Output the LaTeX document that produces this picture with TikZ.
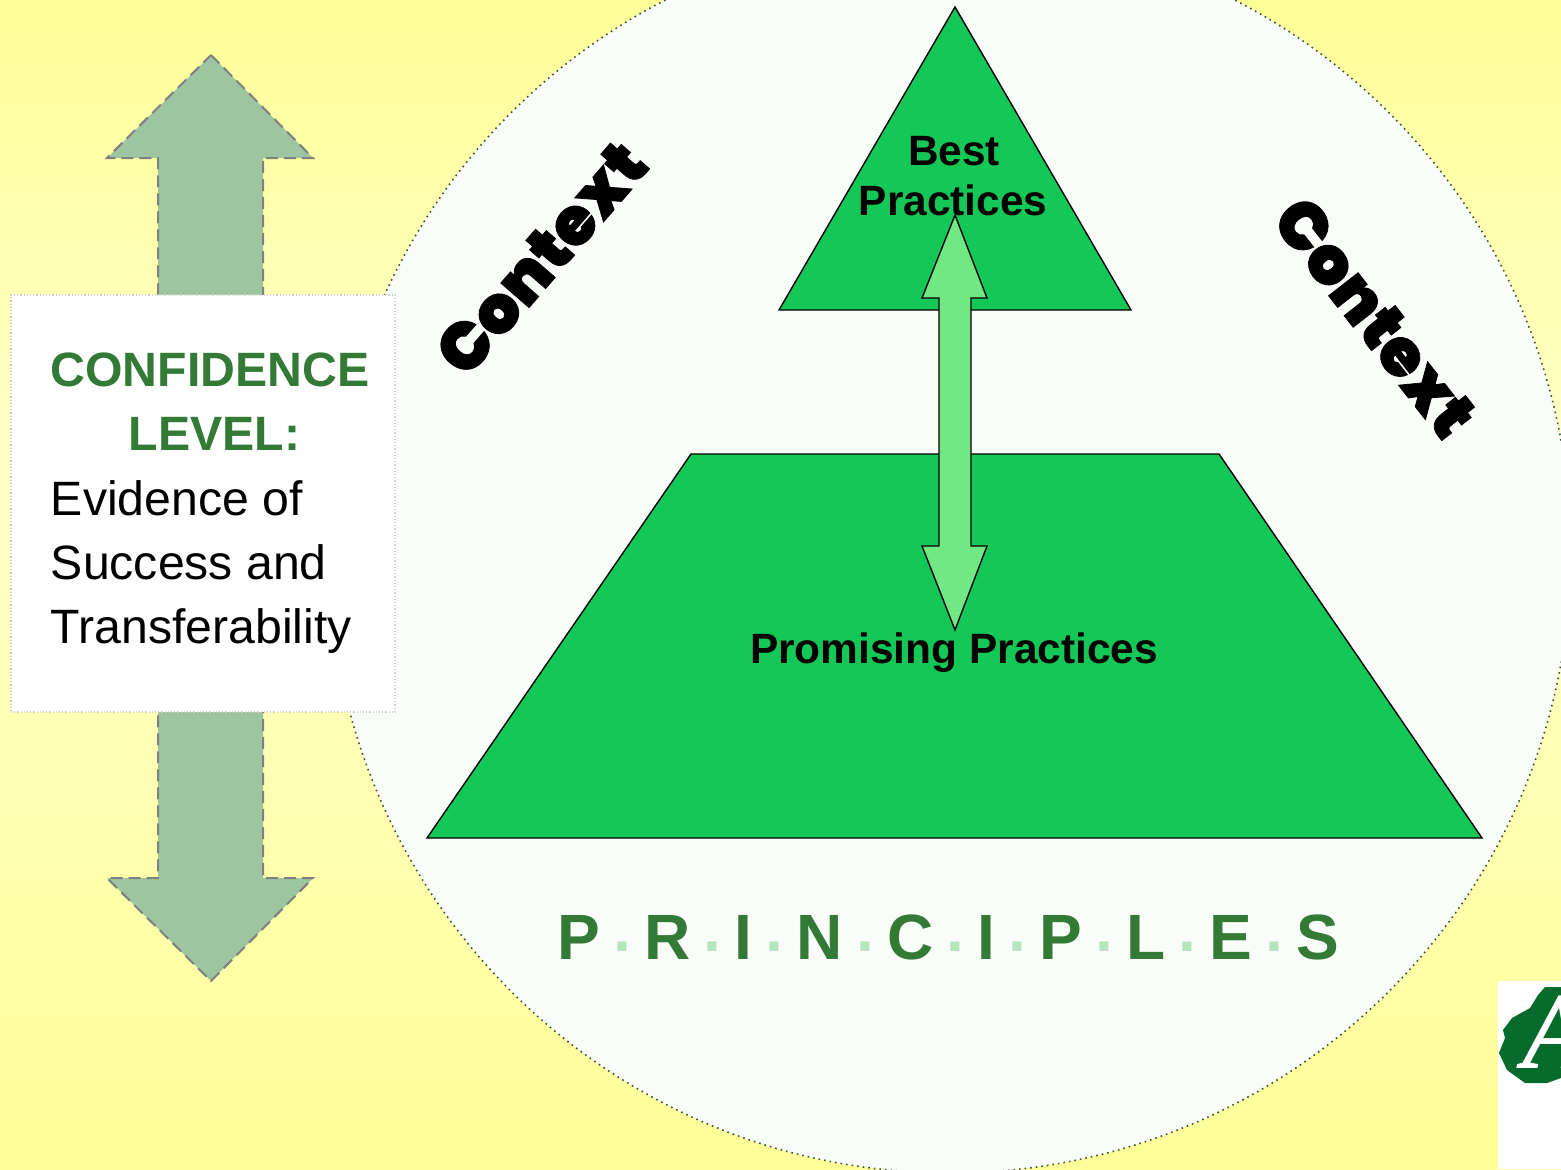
\documentclass[tikz,border=0pt]{standalone}
\usepackage{fontspec}
\setmainfont{Liberation Sans}
\newfontfamily\ctxfont[FakeBold=1.2]{Poppins Black}
\newfontfamily\logofont{Liberation Serif}
\definecolor{bgyellow}{HTML}{FFFF99}
\definecolor{bgpale}{HTML}{FFFFC6}
\definecolor{discfill}{HTML}{FAFCF9}
\definecolor{discline}{HTML}{3F5530}
\definecolor{bigarrow}{HTML}{9DC5A0}
\definecolor{arrowline}{HTML}{808080}
\definecolor{pyramid}{HTML}{14C858}
\definecolor{innerarrow}{HTML}{72E885}
\definecolor{titlegreen}{HTML}{327A35}
\definecolor{dotgreen}{HTML}{B5E5BD}
\definecolor{logogreen}{HTML}{076B2C}
\pgfdeclareverticalshading{bgshade}{100bp}{
  color(0bp)=(bgyellow);
  color(25bp)=(bgyellow);
  color(55bp)=(bgpale);
  color(75bp)=(bgyellow);
  color(100bp)=(bgyellow)}
\newcommand{\sepdot}{\hspace{6.6pt}\raisebox{4pt}{\color{dotgreen}.}\hspace{6.6pt}}
\tikzset{
  pyr/.style={draw=black,fill=pyramid,line width=0.7pt,line join=miter},
  lab/.style={font=\fontsize{21.2}{25}\selectfont\bfseries,align=center,text=black,inner sep=0pt},
  ctx/.style={font=\fontsize{33.2}{38}\selectfont\ctxfont,text=black,inner sep=0pt},
  side/.style={font=\fontsize{24.1}{32}\selectfont,inner sep=0pt,anchor=base west},
  sidehead/.style={font=\fontsize{24.1}{32}\selectfont\bfseries,text=titlegreen,inner sep=0pt,anchor=base},
}
\begin{document}
\begin{tikzpicture}[x=0.5pt,y=-0.5pt]
\useasboundingbox (0,0) rectangle (1561,1169);
\clip (0,0) rectangle (1561,1169);
\shade[shading=bgshade] (0,0) rectangle (1561,1169);
\node[circle,draw=discline,dotted,line width=0.8pt,fill=discfill,minimum size=1242*0.5pt,inner sep=0pt] (disc) at (950,552) {};
% big arrow
\draw[fill=bigarrow,draw=arrowline,dash pattern=on 6pt off 3pt,line width=1pt] (211,55) -- (313,158) -- (263,158) -- (263,878) -- (313,878) -- (211,981) -- (107,878) -- (158,878) -- (158,158) -- (107,158) -- cycle;
% white box
\node[draw=black!18,densely dotted,fill=white,line width=0.6pt,minimum width=192pt,minimum height=208.5pt,inner sep=0pt] (box) at (203,503.5) {};
\node[sidehead] (conf) at (210,386.5) {CONFIDENCE};
\node[sidehead] (lev) at (214.5,450.5) {LEVEL:};
\node[side] (e1) at (50.5,515) {Evidence of};
\node[side] (e2) at (50.5,579) {Success and};
\node[side] (e3) at (50.5,643) {Transferability};
% pyramid
\draw[pyr] (955,7) -- (1131,310) -- (779,310) -- cycle;
\draw[pyr] (691,454) -- (1219,454) -- (1482,838) -- (427,838) -- cycle;
\node[anchor=base,lab] (bp1) at (954,165) {Best};
\node[anchor=base,lab] (bp2) at (953,215) {Practices};
\node[anchor=base,lab] (pp) at (954,663) {Promising Practices};
% inner arrow
\draw[fill=innerarrow,draw=black,line width=0.7pt] (955,215) -- (987,298) -- (971,298) -- (971,546) -- (987,546) -- (955,630) -- (922,546) -- (939,546) -- (939,298) -- (922,298) -- cycle;
% context
\node[ctx,rotate=49] (c1) at (541,258) {Context};
\node[ctx,rotate=-52] (c2) at (1375,317) {Context};
% principles
\node[anchor=base west,font=\fontsize{32}{38}\selectfont\bfseries,text=titlegreen,inner sep=0pt] (pr) at (557,959) {P\sepdot R\sepdot I\sepdot N\sepdot C\sepdot I\sepdot P\sepdot L\sepdot E\sepdot S};
% logo
\fill[white] (1498,981) rectangle (1561,1169);
\fill[logogreen] (1561,987) -- (1545,987) -- (1538,995) -- (1530,1008) -- (1512,1018) -- (1503,1030) -- (1505,1038) -- (1499,1053) -- (1507,1070) -- (1525,1083) -- (1547,1083) -- (1561,1078) -- cycle;
\node[anchor=base west,font=\fontsize{55}{55}\selectfont\logofont\itshape\bfseries,text=white,inner sep=0pt] (logo) at (1522,1068) {A};
\end{tikzpicture}
\end{document}
